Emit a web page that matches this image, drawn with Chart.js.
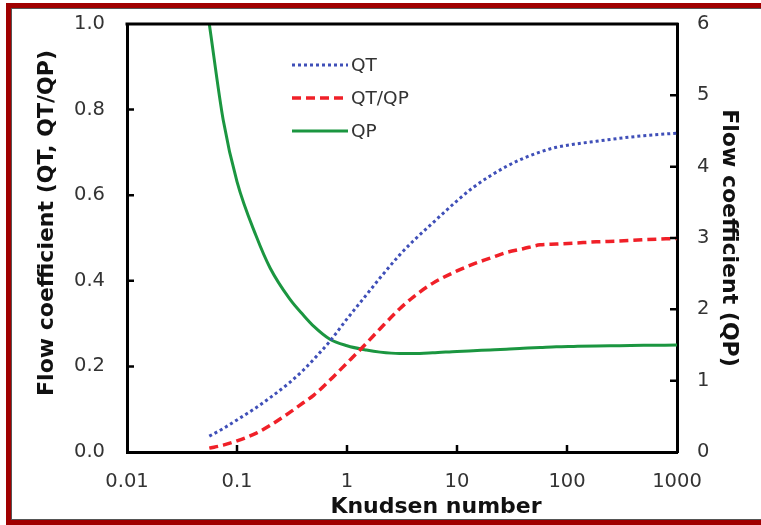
<!DOCTYPE html>
<html>
<head>
<meta charset="utf-8">
<script src="https://cdn.jsdelivr.net/npm/chart.js@4"></script>
<style>
  html, body { margin: 0; padding: 0; background: #fff; }
  canvas { display: block; }
</style>
</head>
<body>
<canvas id="c" width="761" height="525"></canvas>
<script>
// ---- data ----
const knudsen = [0.056, 0.075, 0.1, 0.15, 0.2, 0.3, 0.4, 0.5, 0.7, 1, 1.5, 2, 3, 4, 6, 10, 14, 20, 28, 40, 57, 80, 115, 185, 300, 500, 1000];
const qt      = [0.037, 0.055, 0.075, 0.104, 0.127, 0.162, 0.191, 0.217, 0.259, 0.311, 0.367, 0.407, 0.460, 0.493, 0.535, 0.587, 0.618, 0.645, 0.667, 0.686, 0.701, 0.712, 0.719, 0.726, 0.733, 0.739, 0.745];
const qtqp    = [0.009, 0.016, 0.026, 0.044, 0.062, 0.092, 0.115, 0.133, 0.168, 0.208, 0.254, 0.288, 0.334, 0.362, 0.394, 0.423, 0.439, 0.453, 0.466, 0.475, 0.484, 0.486, 0.488, 0.491, 0.493, 0.496, 0.499];
const qp      = [6.0, 4.65, 3.79, 3.02, 2.58, 2.15, 1.92, 1.76, 1.58, 1.49, 1.43, 1.40, 1.38, 1.38, 1.39, 1.41, 1.42, 1.43, 1.44, 1.455, 1.465, 1.475, 1.48, 1.486, 1.49, 1.495, 1.50];
const seriesNames = ['QT', 'QT/QP', 'QP'];
const xTickValues = [0.01, 0.1, 1, 10, 100, 1000];
const xTickLabels = ['0.01', '0.1', '1', '10', '100', '1000'];
const xTitle = 'Knudsen number';
const yTitle = 'Flow coefficient (QT, QT/QP)';
const y2Title = 'Flow coefficient (QP)';

const FONT = '"DejaVu Sans", Verdana, sans-serif';
const TICK_COLOR = '#333';

function pts(arr) { return knudsen.map((k, i) => ({ x: k, y: arr[i] })); }

const overlay = {
  id: 'overlay',
  beforeDraw(chart) {
    const ctx = chart.ctx;
    ctx.save();
    ctx.fillStyle = '#fff';
    ctx.fillRect(0, 0, chart.width, chart.height);
    ctx.restore();
  },
  afterDraw(chart) {
    const { ctx, chartArea: a, scales } = chart;
    ctx.save();
    // top border of the plot box
    ctx.strokeStyle = '#000';
    ctx.lineWidth = 3;
    ctx.beginPath();
    ctx.moveTo(a.left - 1.5, a.top);
    ctx.lineTo(a.right + 1.5, a.top);
    ctx.stroke();
    // inward tick marks
    ctx.lineWidth = 2.5;
    ctx.beginPath();
    xTickValues.slice(1, -1).forEach(v => {
      const px = scales.x.getPixelForValue(v);
      ctx.moveTo(px, a.bottom); ctx.lineTo(px, a.bottom - 7);
    });
    scales.y.ticks.slice(1, -1).forEach(t => {
      const py = scales.y.getPixelForValue(t.value);
      ctx.moveTo(a.left, py); ctx.lineTo(a.left + 7, py);
    });
    scales.y2.ticks.slice(1, -1).forEach(t => {
      const py = scales.y2.getPixelForValue(t.value);
      ctx.moveTo(a.right, py); ctx.lineTo(a.right - 7, py);
    });
    ctx.stroke();

    // axis titles
    ctx.fillStyle = '#111';
    ctx.font = 'bold 22px ' + FONT;
    ctx.textAlign = 'center';
    ctx.textBaseline = 'middle';
    ctx.fillText(xTitle, 436, 507);
    ctx.save();
    ctx.translate(47, 223);
    ctx.rotate(-Math.PI / 2);
    ctx.fillText(yTitle, 0, 0);
    ctx.restore();
    ctx.save();
    ctx.translate(729, 238);
    ctx.rotate(Math.PI / 2);
    ctx.fillText(y2Title, 0, 0);
    ctx.restore();

    // legend
    const rows = [65, 98, 131];
    chart.data.datasets.forEach((ds, i) => {
      const y = rows[i];
      ctx.save();
      ctx.strokeStyle = ds.borderColor;
      ctx.lineWidth = ds.borderWidth;
      ctx.setLineDash(ds.borderDash || []);
      ctx.beginPath();
      ctx.moveTo(292, y); ctx.lineTo(348, y);
      ctx.stroke();
      ctx.restore();
      ctx.fillStyle = TICK_COLOR;
      ctx.font = '18.5px ' + FONT;
      ctx.textAlign = 'left';
      ctx.textBaseline = 'middle';
      ctx.fillText(ds.label, 351, y + 1);
    });

    // outer frame
    ctx.fillStyle = '#a00000';
    ctx.fillRect(6, 3, 755, 5);
    ctx.fillRect(6, 3, 5, 522);
    ctx.fillRect(6, 520, 755, 5);
    ctx.fillStyle = '#555';
    ctx.fillRect(11, 8, 750, 1);
    ctx.fillRect(11, 8, 1, 512);
    ctx.fillRect(11, 519, 750, 1);
    ctx.restore();
  }
};

function noPadY(width) {
  return s => { s.width = width; s.paddingTop = 0; s.paddingBottom = 0; };
}

new Chart(document.getElementById('c'), {
  type: 'line',
  data: {
    datasets: [
      { label: seriesNames[0], data: pts(qt), yAxisID: 'y', borderColor: '#3f4fb8', borderWidth: 3, borderDash: [3, 3], fill: false, pointRadius: 0, cubicInterpolationMode: 'monotone' },
      { label: seriesNames[1], data: pts(qtqp), yAxisID: 'y', borderColor: '#f02028', borderWidth: 3.5, borderDash: [9, 5], fill: false, pointRadius: 0, cubicInterpolationMode: 'monotone' },
      { label: seriesNames[2], data: pts(qp), yAxisID: 'y2', borderColor: '#1b9640', borderWidth: 3, fill: false, pointRadius: 0, cubicInterpolationMode: 'monotone' }
    ]
  },
  options: {
    responsive: false,
    animation: false,
    devicePixelRatio: 1,
    layout: { padding: { left: 0, right: 0, top: 24, bottom: 0 } },
    plugins: { legend: { display: false }, tooltip: { enabled: false }, title: { display: false } },
    scales: {
      x: {
        type: 'logarithmic',
        min: 0.01, max: 1000,
        afterBuildTicks: s => { s.ticks = xTickValues.map(v => ({ value: v })); },
        afterFit: s => { s.height = 73; s.paddingLeft = 0; s.paddingRight = 0; },
        grid: { display: false, drawTicks: false },
        border: { display: true, color: '#000', width: 3 },
        ticks: {
          autoSkip: false, maxRotation: 0, padding: 18,
          color: TICK_COLOR, font: { family: FONT, size: 19.5 },
          callback: (v) => { const i = xTickValues.indexOf(v); return i >= 0 ? xTickLabels[i] : ''; }
        }
      },
      y: {
        position: 'left',
        min: 0, max: 1,
        afterFit: noPadY(127),
        grid: { display: false, drawTicks: false },
        border: { display: true, color: '#000', width: 3 },
        ticks: { stepSize: 0.2, padding: 22, color: TICK_COLOR, font: { family: FONT, size: 19.5 }, callback: v => Number(v).toFixed(1) }
      },
      y2: {
        position: 'right',
        min: 0, max: 6,
        afterFit: noPadY(84),
        grid: { display: false, drawTicks: false },
        border: { display: true, color: '#000', width: 3 },
        ticks: { stepSize: 1, padding: 20, color: TICK_COLOR, font: { family: FONT, size: 19.5 }, callback: v => String(v) }
      }
    }
  },
  plugins: [overlay]
});
</script>
</body>
</html>
